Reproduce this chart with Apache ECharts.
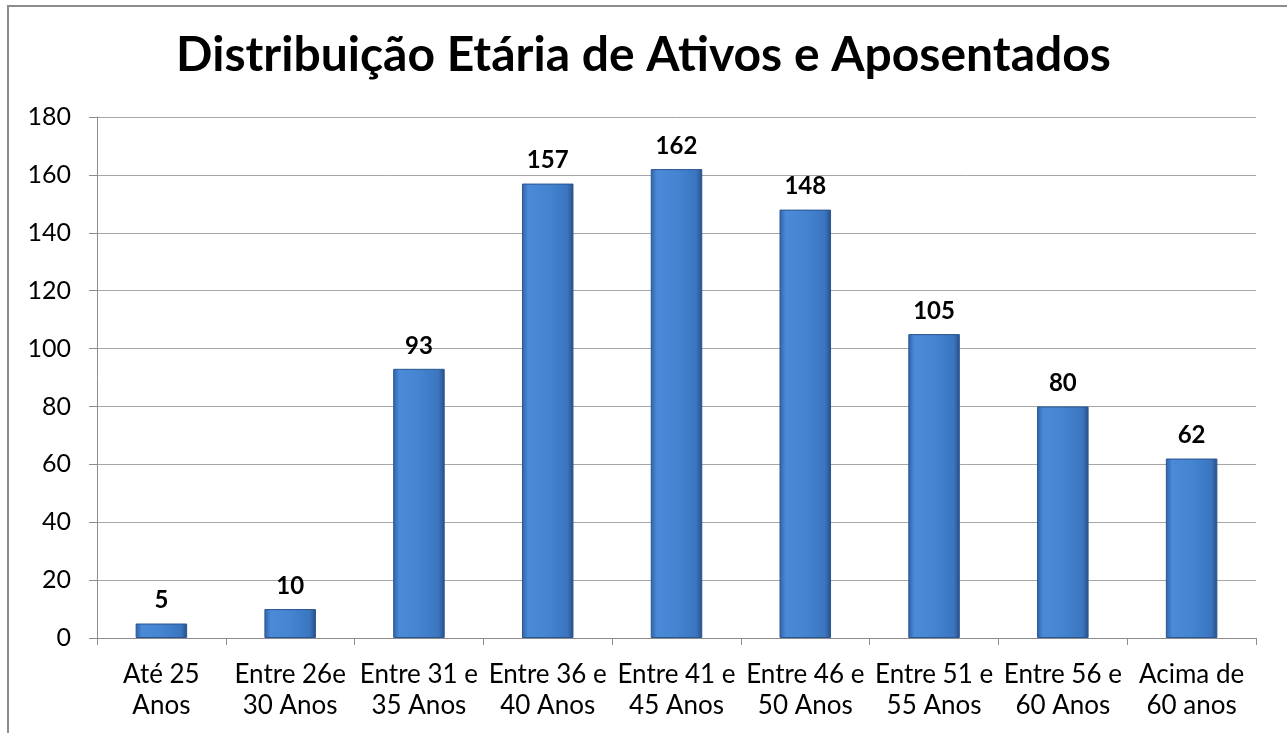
<!DOCTYPE html>
<html><head><meta charset="utf-8">
<script src="https://cdn.jsdelivr.net/npm/echarts@6/dist/echarts.min.js"></script>
<style>html,body{margin:0;padding:0;background:#fff}#c{width:1287px;height:733px}
#frame{position:absolute;left:7px;top:5px;width:1300px;height:760px;border-left:2px solid #8c8c8c;border-top:2px solid #8c8c8c;pointer-events:none}</style>
</head><body><div id="c"></div><div id="frame"></div>
<script>
const titleText = 'Distribuição Etária de Ativos e Aposentados';
const categories = ['Até 25\nAnos','Entre 26e\n30 Anos','Entre 31 e\n35 Anos','Entre 36 e\n40 Anos','Entre 41 e\n45 Anos','Entre 46 e\n50 Anos','Entre 51 e\n55 Anos','Entre 56 e\n60 Anos','Acima de\n60 anos'];
const values = [5,10,93,157,162,148,105,80,62];
const yTicks = {min:0,max:180,interval:20};

const FONT = 'Lato';
const chart = echarts.init(document.getElementById('c'));
chart.setOption({
  animation:false,
  title:{text:titleText,left:'center',top:27,textStyle:{fontFamily:FONT,fontWeight:'bold',fontSize:48,color:'#000'}},
  grid:{left:97,right:31,top:117,bottom:95},
  xAxis:{type:'category',data:categories,
    axisLine:{lineStyle:{color:'#8c8c8c',width:1}},
    axisTick:{show:true,length:7,lineStyle:{color:'#8c8c8c'}},
    axisLabel:{color:'#000',fontFamily:FONT,fontSize:26,lineHeight:31,margin:21,interval:0}},
  yAxis:{type:'value',min:yTicks.min,max:yTicks.max,interval:yTicks.interval,
    axisLine:{show:true,lineStyle:{color:'#8c8c8c'}},
    axisTick:{show:true,length:8,lineStyle:{color:'#8c8c8c'}},
    splitLine:{lineStyle:{color:'#a6a6a6',width:1}},
    axisLabel:{color:'#000',fontFamily:FONT,fontSize:25,margin:26}},
  series:[{type:'bar',data:values,barWidth:'40%',
    itemStyle:{color:{type:'linear',x:0,y:0,x2:1,y2:0,colorStops:[
      {offset:0,color:'#2f62a6'},{offset:0.12,color:'#4a8ad8'},{offset:0.5,color:'#4484d0'},{offset:0.88,color:'#3b76c0'},{offset:1,color:'#284f86'}]},
      borderColor:'#2a5590',borderWidth:1},
    label:{show:true,position:'top',distance:11,color:'#000',fontFamily:FONT,fontWeight:'bold',fontSize:24}}]
});
</script></body></html>
